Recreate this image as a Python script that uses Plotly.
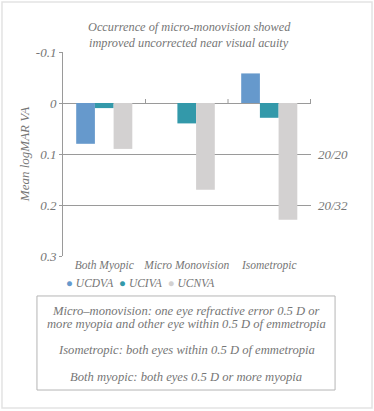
import plotly.graph_objects as go

categories = ["Both Myopic", "Micro Monovision", "Isometropic"]
series_names = ["UCDVA", "UCIVA", "UCNVA"]
ucdva = [0.08, 0.0, -0.058]
uciva = [0.01, 0.04, 0.029]
ucnva = [0.09, 0.17, 0.229]
y_ticks = [-0.1, 0, 0.1, 0.2, 0.3]
snellen_vals = [0.1, 0.2]
snellen_labels = ["20/20", "20/32"]
title_lines = ["Occurrence of micro-monovision showed",
               "improved uncorrected near visual acuity"]
note_lines = [
    "Micro–monovision: one eye refractive error 0.5 D or",
    "more myopia and other eye within 0.5 D of emmetropia",
    "Isometropic: both eyes within 0.5 D of emmetropia",
    "Both myopic: both eyes 0.5 D or more myopia",
]

colors = ["#6699CC", "#3399AA", "#D3D1D1"]
txt = "#767676"
grid = "#9a9a9a"
FONT = "Liberation Serif"

fig = go.Figure()
for name, vals, c in zip(series_names, [ucdva, uciva, ucnva], colors):
    fig.add_trace(go.Bar(x=categories, y=vals, name=name, marker_color=c,
                         marker_line_width=0, showlegend=False))

# small category boundary ticks on the zero line
shapes = []
for i in range(1, len(categories) + 1):
    shapes.append(dict(type="line", xref="x", yref="y", x0=i - 0.5, x1=i - 0.5,
                       ysizemode="pixel", yanchor=0, y0=0, y1=4,
                       line=dict(color=grid, width=1)))
# note box
shapes.append(dict(type="rect", xref="paper", yref="paper",
                   x0=-0.105, x1=1.097, y0=-0.657, y1=-0.196,
                   line=dict(color="#b5b5b5", width=1)))
# outer frame
shapes.append(dict(type="rect", xref="paper", yref="paper",
                   x0=-0.246, x1=1.246, y0=-0.745, y1=1.245,
                   line=dict(color="#e3e3e3", width=1.5)))

annotations = []
# title lines
for t, yy in zip(title_lines, [1.125, 1.042]):
    annotations.append(dict(x=0.51, xref="paper", y=yy, yref="paper", text=t,
                            xanchor="center", yanchor="middle", showarrow=False,
                            font=dict(family=FONT, size=12.3, color=txt, style="italic")))
for v, lab in zip(snellen_vals, snellen_labels):
    annotations.append(dict(x=1, xref="paper", y=v, yref="y", text=lab,
                            xanchor="left", xshift=5, showarrow=False,
                            font=dict(family=FONT, size=13, color=txt, style="italic")))
note_y = [-0.27, -0.333, -0.461, -0.593]
for t, yy in zip(note_lines, note_y):
    annotations.append(dict(x=0.496, xref="paper", y=yy, yref="paper", text=t,
                            xanchor="center", yanchor="middle", showarrow=False,
                            font=dict(family=FONT, size=12.6, color=txt, style="italic")))
# legend drawn as text
legend_text = "&nbsp;&nbsp;".join(
    f"<span style='color:{c}'>●</span> {n}" for n, c in zip(series_names, colors))
annotations.append(dict(x=0.005, xref="paper", y=-0.132, yref="paper", text=legend_text,
                        xanchor="left", yanchor="middle", showarrow=False,
                        font=dict(family=FONT, size=11.5, color=txt, style="italic")))

fig.update_layout(
    width=374, height=411,
    margin=dict(l=63, r=63, t=52, b=155),
    paper_bgcolor="white", plot_bgcolor="white",
    font=dict(family=FONT, color=txt, style="italic"),
    showlegend=False,
    barmode="group", bargap=0.32, bargroupgap=0,
    xaxis=dict(showline=False, ticks="", tickfont=dict(size=11.5, family=FONT, color=txt, style="italic"),
               showgrid=False),
    yaxis=dict(range=[0.3, -0.1], tickvals=y_ticks,
               ticktext=["-0.1", "0", "0.1", "0.2", "0.3"],
               showgrid=True, gridcolor=grid, gridwidth=1,
               zeroline=True, zerolinecolor=grid, zerolinewidth=1,
               showline=True, linecolor=grid, linewidth=1,
               ticks="outside", ticklen=3, tickcolor=grid,
               tickfont=dict(size=13, family=FONT, color=txt, style="italic"),
               title=dict(text="Mean logMAR VA", standoff=3,
                          font=dict(size=13, family=FONT, color=txt, style="italic"))),
    shapes=shapes, annotations=annotations,
)

fig.write_html("out.html", config={"displayModeBar": False},
               post_script="document.body.style.margin='0';")
